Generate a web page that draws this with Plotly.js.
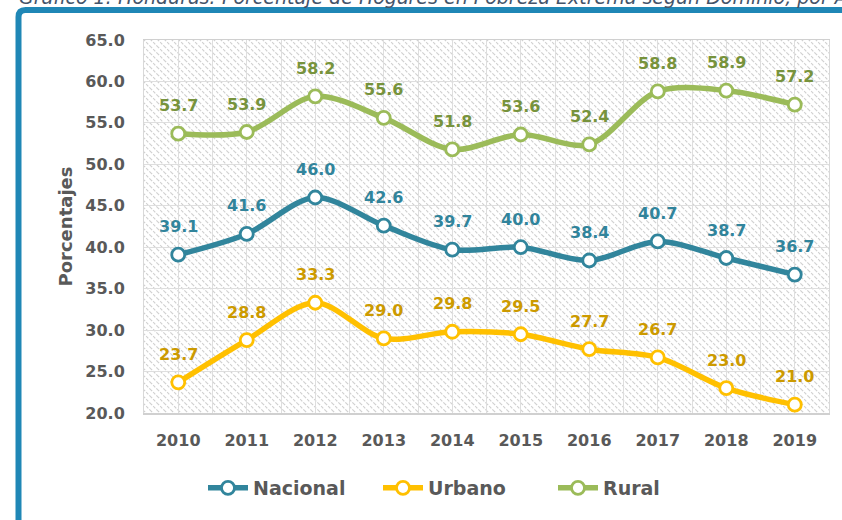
<!DOCTYPE html>
<html>
<head>
<meta charset="utf-8">
<script src="https://cdn.plot.ly/plotly-3.0.1.min.js"></script>
<style>
  html, body { margin: 0; padding: 0; background: #ffffff; }
  #chart { width: 842px; height: 520px; }
</style>
</head>
<body>
<div id="chart"></div>
<script>
// ---- data ----
const years = [2010, 2011, 2012, 2013, 2014, 2015, 2016, 2017, 2018, 2019];
const yearLabels = ['2010', '2011', '2012', '2013', '2014', '2015', '2016', '2017', '2018', '2019'];
const nacional = [39.1, 41.6, 46.0, 42.6, 39.7, 40.0, 38.4, 40.7, 38.7, 36.7];
const urbano   = [23.7, 28.8, 33.3, 29.0, 29.8, 29.5, 27.7, 26.7, 23.0, 21.0];
const rural    = [53.7, 53.9, 58.2, 55.6, 51.8, 53.6, 52.4, 58.8, 58.9, 57.2];
const seriesNames = ['Nacional', 'Urbano', 'Rural'];
const titleText = 'Gráfico 1: Honduras: Porcentaje de Hogares en Pobreza Extrema según Dominio, por Año';

// ---- styles ----
const FONT = 'DejaVu Sans, Verdana, sans-serif';
const lineColors = ['#31859c', '#ffc000', '#9bbb59'];
const labelColors = ['#31849b', '#cc9a00', '#77933c'];
const allSeries = [nacional, urbano, rural];

const W = 842, H = 520;
const M = { l: 144, r: 13, t: 40, b: 107 };
const PW = W - M.l - M.r, PH = H - M.t - M.b;

// hatch background for plot area
const hatchSvg =
  '<svg xmlns="http://www.w3.org/2000/svg" width="' + PW + '" height="' + PH + '">' +
  '<defs><pattern id="h" width="7" height="7" patternUnits="userSpaceOnUse">' +
  '<path d="M-1,-1 L8,8 M-1,6 L1,8 M6,-1 L8,1" stroke="#d0d0d0" stroke-width="1.2" stroke-dasharray="3 1.5"/>' +
  '</pattern></defs>' +
  '<rect width="100%" height="100%" fill="#ffffff"/>' +
  '<rect width="100%" height="100%" fill="url(#h)"/></svg>';
const hatchUri = 'data:image/svg+xml;charset=utf-8,' + encodeURIComponent(hatchSvg);

const traces = allSeries.map((vals, i) => ({
  type: 'scatter',
  mode: 'lines+markers',
  name: seriesNames[i],
  x: years,
  y: vals,
  line: { color: lineColors[i], width: 5.5, shape: 'spline', smoothing: 0.9 },
  marker: { symbol: 'circle', size: 13, color: '#ffffff', line: { color: lineColors[i], width: 2.8 } },
  hoverinfo: 'x+y+name'
}));

const annotations = [];
allSeries.forEach((vals, i) => {
  vals.forEach((v, j) => {
    annotations.push({
      x: years[j], y: v, xref: 'x', yref: 'y',
      text: v.toFixed(1), showarrow: false, yshift: 28,
      font: { family: FONT, size: 16, weight: 700, color: labelColors[i] }
    });
  });
});
// cut-off title at the top
annotations.push({
  xref: 'paper', yref: 'paper',
  x: (17 - M.l) / PW, y: 1 + (M.t + 3) / PH,
  xanchor: 'left', yanchor: 'middle', showarrow: false,
  text: titleText,
  font: { family: FONT, size: 19, style: 'italic', weight: 400, color: '#44546a' }
});

// blue frame (rounded top-left corner)
const fx = (18.5 - M.l) / PW, fy = 1 + (M.t - 10) / PH;
const rx = 7 / PW, ry = 7 / PH;
const framePath = 'M' + fx + ',' + (-1) + ' L' + fx + ',' + (fy - ry) +
  ' Q' + fx + ',' + fy + ' ' + (fx + rx) + ',' + fy + ' L' + 2 + ',' + fy;

const layout = {
  width: W, height: H,
  margin: M,
  paper_bgcolor: '#ffffff',
  plot_bgcolor: 'rgba(0,0,0,0)',
  font: { family: FONT, color: '#595959' },
  showlegend: true,
  legend: {
    orientation: 'h',
    xref: 'container', yref: 'container',
    x: 203 / W, xanchor: 'left',
    y: 1 - 488 / H, yanchor: 'middle',
    font: { family: FONT, size: 19, weight: 700, color: '#595959' },
    itemwidth: 40, entrywidth: 120, entrywidthmode: 'pixels', tracegroupgap: 0,
    bgcolor: 'rgba(0,0,0,0)'
  },
  xaxis: {
    type: 'linear',
    range: [2009.5, 2019.5],
    tickvals: years,
    ticktext: yearLabels,
    showgrid: true, gridcolor: '#dedede', gridwidth: 1,
    minor: { dtick: 0.5, tick0: 2009.5, showgrid: true, gridcolor: '#dedede', gridwidth: 1 },
    zeroline: false,
    showline: true, mirror: true, linecolor: '#d0d0d0', linewidth: 1.5,
    ticks: '',
    ticklabelstandoff: 12,
    tickfont: { family: FONT, size: 16, weight: 700, color: '#595959' },
    fixedrange: true
  },
  yaxis: {
    range: [20, 65],
    dtick: 5, tick0: 20,
    tickformat: '.1f',
    showgrid: true, gridcolor: '#dedede', gridwidth: 1,
    zeroline: false,
    showline: true, mirror: true, linecolor: '#d8d8d8', linewidth: 1,
    ticks: '',
    ticklabelstandoff: 15,
    tickfont: { family: FONT, size: 16, weight: 700, color: '#595959' },
    title: { text: 'Porcentajes', standoff: 8, font: { family: FONT, size: 18, weight: 700, color: '#595959' } },
    fixedrange: true
  },
  images: [{
    source: hatchUri,
    xref: 'paper', yref: 'paper',
    x: 0, y: 1, sizex: 1, sizey: 1,
    xanchor: 'left', yanchor: 'top',
    sizing: 'stretch', layer: 'below'
  }],
  shapes: [{
    type: 'path', xref: 'paper', yref: 'paper',
    path: framePath,
    line: { color: '#1f87b6', width: 6 },
    layer: 'above'
  }],
  annotations: annotations
};

Plotly.newPlot('chart', traces, layout, { displayModeBar: false, staticPlot: true });
</script>
</body>
</html>
